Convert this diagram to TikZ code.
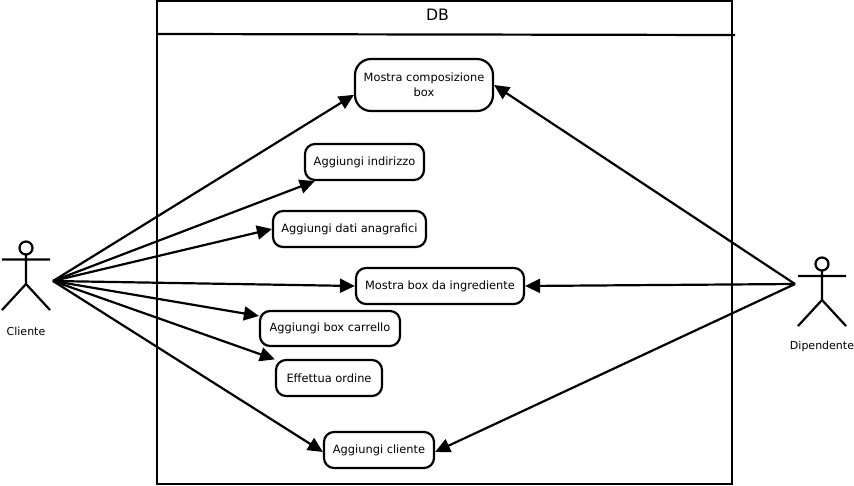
\documentclass[tikz,border=0pt]{standalone}
\usepackage{fontspec}
\setmainfont{DejaVu Sans}
\usetikzlibrary{arrows.meta}
\tikzset{
  usecase/.style={draw=black,fill=white,line width=2.2pt,rounded corners=10pt,inner sep=0pt,align=center,font=\fontsize{11.4pt}{15pt}\selectfont},
  actorline/.style={draw=black,line width=2.2pt},
  frameline/.style={draw=black,line width=2.2pt},
  link/.style={draw=black,line width=2.2pt,-{Triangle[length=15pt,width=14pt]}},
  actorlabel/.style={font=\fontsize{11pt}{12pt}\selectfont,inner sep=0pt},
}
\begin{document}
\begin{tikzpicture}[x=1pt,y=-1pt]
\useasboundingbox (0,0) rectangle (854,485);
% frame
\draw[frameline] (157,1) rectangle (732,484);
\draw[frameline] (157,34) -- (735,35);
\node[font=\fontsize{15.7pt}{15pt}\selectfont,inner sep=0pt] (title) at (437.5,15) {DB};
% use cases
\node[usecase,minimum width=138pt,minimum height=52pt,rounded corners=16pt] (n1) at (424,85) {Mostra composizione\\box};
\node[usecase,minimum width=119pt,minimum height=36pt] (n2) at (364.5,162) {Aggiungi indirizzo};
\node[usecase,minimum width=153pt,minimum height=36pt] (n3) at (349.5,229) {Aggiungi dati anagrafici};
\node[usecase,minimum width=168pt,minimum height=36pt] (n4) at (440,286) {Mostra box da ingrediente};
\node[usecase,minimum width=140pt,minimum height=35pt] (n5) at (330,328.5) {Aggiungi box carrello};
\node[usecase,minimum width=106pt,minimum height=36pt] (n6) at (329,378) {Effettua ordine};
\node[usecase,minimum width=110pt,minimum height=36pt] (n7) at (379,450) {Aggiungi cliente};
% actor Cliente
\draw[actorline] (26,248) circle (6.5pt);
\draw[actorline] (26,254.5) -- (26,284) (2,259.5) -- (50,259.5) (2,310) -- (26,284) -- (50,310);
\node[actorlabel] (cliente) at (26,331) {Cliente};
\coordinate (cport) at (53,281);
% actor Dipendente
\draw[actorline] (822,264) circle (6.5pt);
\draw[actorline] (822,270.5) -- (822,300) (798,276) -- (846,276) (798,326) -- (822,300) -- (846,326);
\node[actorlabel] (dipendente) at (822,346) {Dipendente};
\coordinate (dport) at (795,284);
% connectors
\draw[link] (cport) -- (n1.188);
\draw[link] (cport) -- (n2.201);
\draw[link] (cport) -- (n3.west);
\draw[link] (cport) -- (n4.west);
\draw[link] (cport) -- (n5.170.7);
\draw[link] (cport) -- (n6.161);
\draw[link] (cport) -- (n7.182);
\draw[link] (dport) -- (n1.east);
\draw[link] (dport) -- (n4.east);
\draw[link] (dport) -- (n7.358);
\end{tikzpicture}
\end{document}
